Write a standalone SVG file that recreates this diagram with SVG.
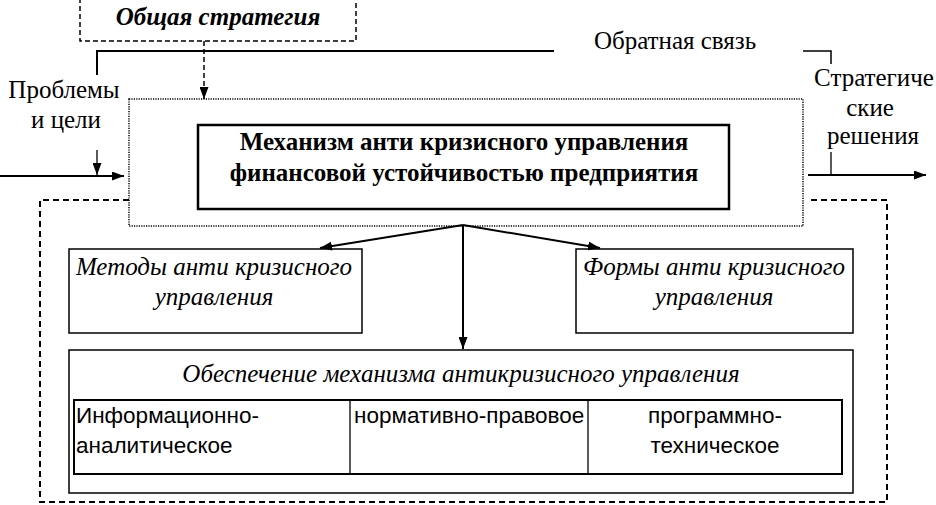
<svg xmlns="http://www.w3.org/2000/svg" width="936" height="505" viewBox="0 0 936 505">
<style>
.t{font-family:'Liberation Serif','Times New Roman',serif;fill:#000;font-size:25px}
.s{font-family:'Liberation Sans',Arial,sans-serif;fill:#000;font-size:22.5px}
.b{font-weight:bold}
.i{font-style:italic}
.box{fill:#fff;stroke:#000;stroke-width:1.5}
.ln{fill:none;stroke:#000;stroke-width:2}
.thin{fill:none;stroke:#000;stroke-width:1.3}
</style>
<defs>
<marker id="ah" viewBox="0 0 12 9" refX="12" refY="4.5" markerWidth="12" markerHeight="9" markerUnits="userSpaceOnUse" orient="auto">
<path d="M0,0 L12,4.5 L0,9 z" fill="#000"/>
</marker>
</defs>
<rect width="936" height="505" fill="#fff"/>
<g id="outer">
<path d="M129,200 H40 V502 H887 V200 H809" fill="none" stroke="#000" stroke-width="2" stroke-dasharray="6,4"/>
</g>
<g id="strategy">
<rect x="80" y="-1" width="276" height="42" fill="#fff" stroke="#000" stroke-width="1.5" stroke-dasharray="5,3"/>
<text class="t b i" x="218" y="25" text-anchor="middle">Общая стратегия</text>
</g>
<g id="mechanism-frame">
<rect x="129" y="99" width="674" height="127" fill="none" stroke="#000" stroke-width="1.5" stroke-dasharray="1.2,1.2"/>
</g>
<g id="mechanism">
<rect x="198" y="125" width="531" height="84" fill="#fff" stroke="#000" stroke-width="2.5"/>
<text class="t b" x="464" y="150" text-anchor="middle">Механизм анти кризисного управления</text>
<text class="t b" x="464" y="181" text-anchor="middle">финансовой устойчивостью предприятия</text>
</g>
<g id="problems">
<text class="t" x="64" y="98" text-anchor="middle">Проблемы</text>
<text class="t" x="66" y="128" text-anchor="middle">и цели</text>
</g>
<g id="decisions">
<text class="t" x="874" y="86" text-anchor="middle">Стратегиче</text>
<text class="t" x="870" y="116" text-anchor="middle">ские</text>
<text class="t" x="873" y="144" text-anchor="middle">решения</text>
</g>
<g id="feedback">
<text class="t" x="675" y="49" text-anchor="middle">Обратная связь</text>
</g>
<g id="methods">
<rect class="box" x="69" y="249" width="293" height="84"/>
<text class="t i" x="214" y="275" text-anchor="middle">Методы анти кризисного</text>
<text class="t i" x="214" y="305" text-anchor="middle">управления</text>
</g>
<g id="forms">
<rect class="box" x="576" y="249" width="277" height="84"/>
<text class="t i" x="714" y="275" text-anchor="middle">Формы анти кризисного</text>
<text class="t i" x="714" y="305" text-anchor="middle">управления</text>
</g>
<g id="support">
<rect class="box" x="69" y="350" width="784" height="143"/>
<text class="t i" x="461" y="382" text-anchor="middle">Обеспечение механизма антикризисного управления</text>
<rect x="74" y="400" width="768" height="74" fill="#fff" stroke="#000" stroke-width="2"/>
<line x1="350" y1="400" x2="350" y2="474" stroke="#000" stroke-width="1.3"/>
<line x1="588" y1="400" x2="588" y2="474" stroke="#000" stroke-width="1.3"/>
<text class="s" x="76" y="423">Информационно-</text>
<text class="s" x="76" y="453">аналитическое</text>
<text class="s" x="354" y="423">нормативно-правовое</text>
<text class="s" x="715" y="423" text-anchor="middle">программно-</text>
<text class="s" x="715" y="453" text-anchor="middle">техническое</text>
</g>
<g id="connectors">
<path class="ln" d="M97,75 V51 H554"/>
<path d="M803,51 H831 V64" fill="none" stroke="#000" stroke-width="1.5"/>
<path d="M204,41 V99" fill="none" stroke="#000" stroke-width="1.5" stroke-dasharray="5,3" marker-end="url(#ah)"/>
<path class="ln" d="M0,176 H124" marker-end="url(#ah)"/>
<path class="thin" d="M97,150 V175" marker-end="url(#ah)"/>
<path class="ln" d="M808,175 H926" marker-end="url(#ah)"/>
<path class="thin" d="M831,152 V175"/>
<path class="ln" d="M463,225 L320,248" marker-end="url(#ah)"/>
<path class="ln" d="M463,225 L600,248" marker-end="url(#ah)"/>
<path class="ln" d="M463,225 V349" marker-end="url(#ah)"/>
</g>
</svg>
